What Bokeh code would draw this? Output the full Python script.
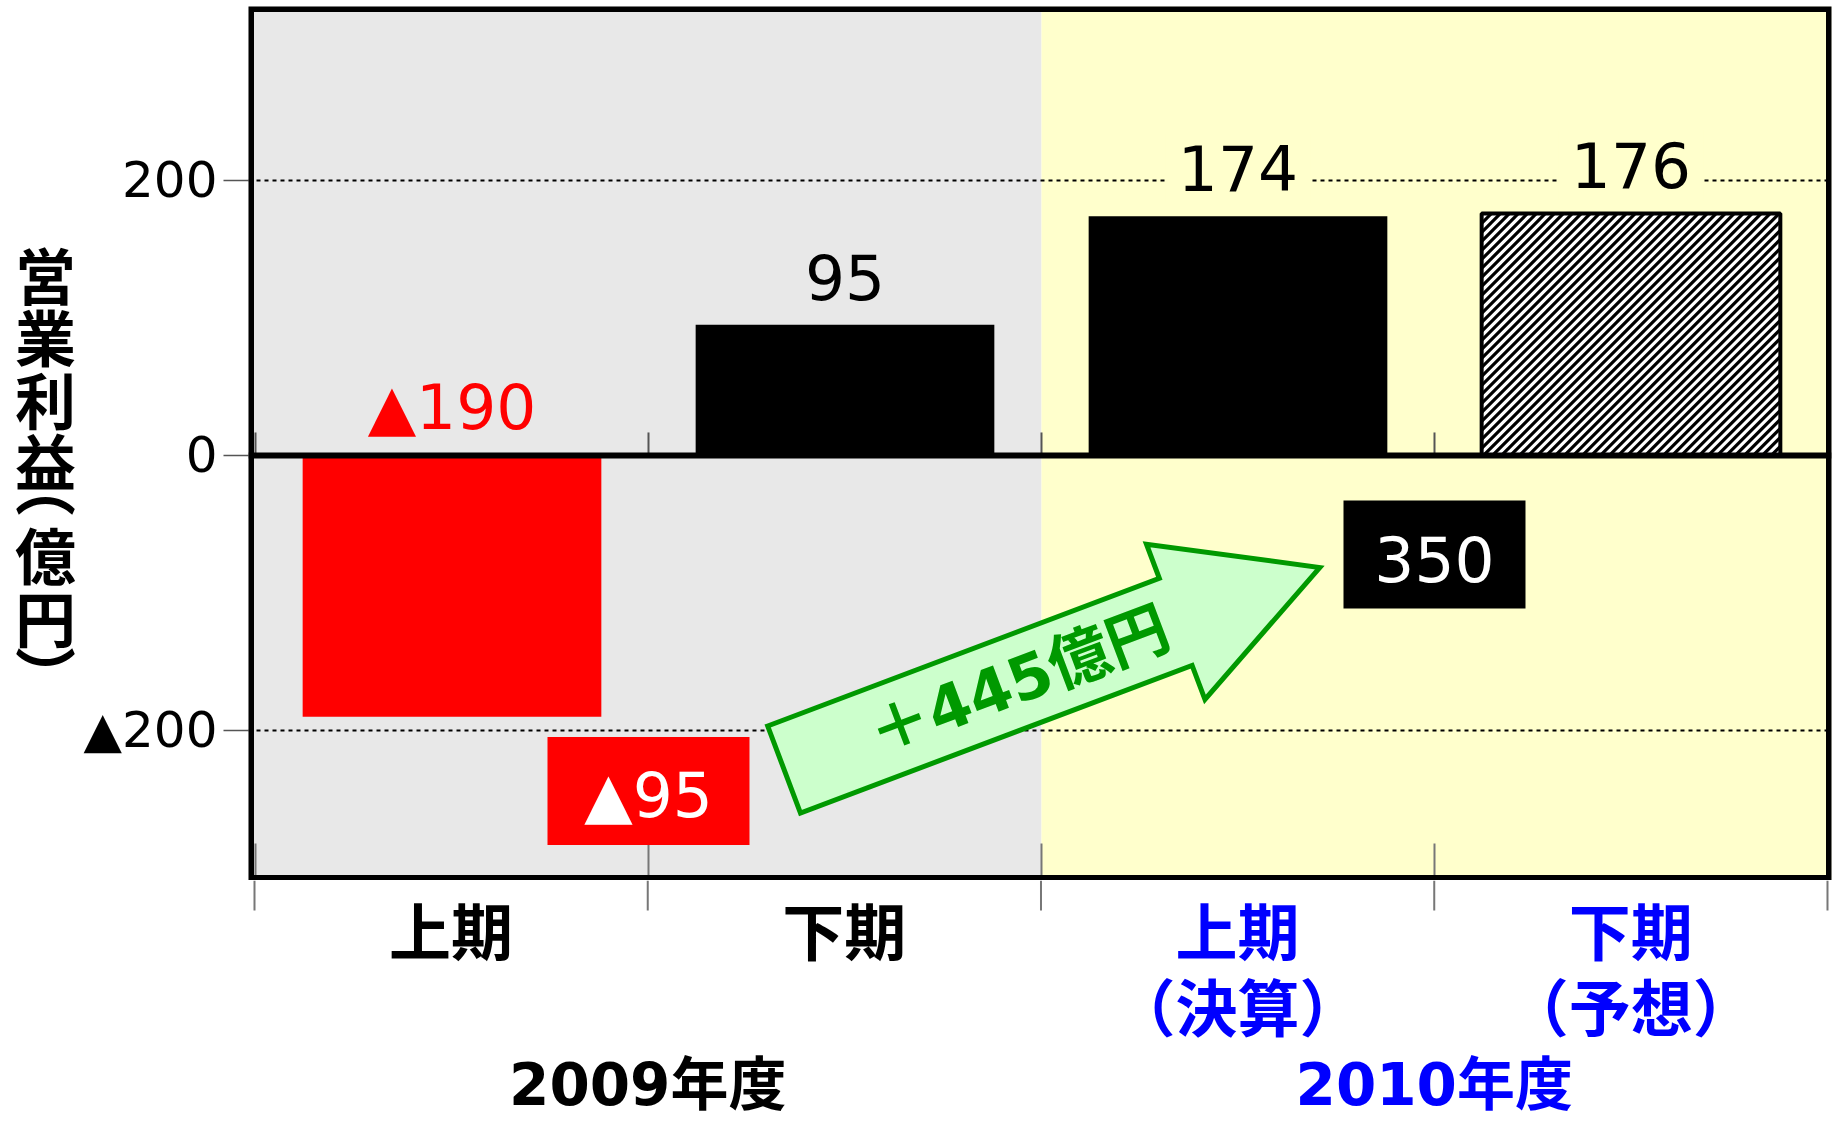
import math
from bokeh.plotting import figure
from bokeh.layouts import column, row
from bokeh.models import Range1d, FixedTicker, BoxAnnotation, Span
from bokeh.core.properties import value
from bokeh.embed import file_html
from bokeh.resources import INLINE

# ---------------- data ----------------
halves = ["上期", "下期", "上期", "下期"]
notes = ["", "", "（決算）", "（予想）"]
years = ["2009年度", "2010年度"]
profit = [-190, 95, 174, 176]          # 営業利益（億円）
forecast = [False, False, False, True]
y_ticks = [-200, 0, 200]
y_title = ["営", "業", "利", "益", "︵", "億", "円", "︶"]   # 営業利益（億円）, vertical


def jp_num(v):
    return ("▲" if v < 0 else "") + str(abs(v))


totals = [sum(profit[0:2]), sum(profit[2:4])]
gain = totals[1] - totals[0]
n = len(halves)
bounds = list(range(n + 1))
cx = [i + 0.5 for i in range(n)]
year_x = [sum(cx[0:2]) / 2, sum(cx[2:4]) / 2]

# ---------------- layout ----------------
W, H = 1837, 1126
TW = 80                        # width of the y-title strip
FL, FR, FT, FB = 247, 1831, 6, 880
X0, X1 = -0.0178, 4.0102
Y0, Y1 = -309.1, 326.5
PX_X = (FR - FL) / (X1 - X0)
PX_Y = (FB - FT) / (Y1 - Y0)
BAR_W = 0.76

NUM_FONT = value("DejaVu Sans")
JP_FONT = value("Noto Sans CJK JP")
MIX_FONT = value("DejaVu Sans, 'Noto Sans CJK JP'")

xr = Range1d(X0, X1)

# ---------------- main chart ----------------
p = figure(width=W - TW, height=FB, x_range=xr, y_range=Range1d(Y0, Y1),
           x_axis_type=None, output_backend="svg", toolbar_location=None,
           min_border_left=FL - TW, min_border_right=W - FR,
           min_border_top=FT, min_border_bottom=0)
p.outline_line_color = None
p.border_fill_color = "white"

p.add_layout(BoxAnnotation(right=2, fill_color="#E8E8E8", fill_alpha=1,
                           line_color=None, level="image"))
p.add_layout(BoxAnnotation(left=2, fill_color="#FFFFCC", fill_alpha=1,
                           line_color=None, level="image"))

ya = p.yaxis[0]
ya.ticker = FixedTicker(ticks=y_ticks)
ya.major_label_overrides = {t: jp_num(t) for t in y_ticks}
ya.major_tick_in = 0
ya.major_tick_out = 25
ya.major_tick_line_color = "#555555"
ya.major_tick_line_width = 1.5
ya.minor_tick_line_color = None
ya.axis_line_color = None
ya.major_label_text_font = "DejaVu Sans"
ya.major_label_text_font_size = "50px"
ya.major_label_text_color = "black"
ya.major_label_standoff = 6

p.ygrid.ticker = FixedTicker(ticks=[t for t in y_ticks if t != 0])
p.ygrid.grid_line_color = "black"
p.ygrid.grid_line_width = 2
p.ygrid.grid_line_dash = "4 4"

# category boundary ticks inside the frame (bottom edge and zero line)
p.ray(x=bounds, y=[Y0] * len(bounds), length=37, length_units="screen",
      angle=math.pi / 2, line_color="#777777", line_width=2)
p.ray(x=bounds[:-1], y=[0] * n, length=23, length_units="screen",
      angle=math.pi / 2, line_color="#555555", line_width=2)

# solid bars
solid = [i for i in range(n) if not forecast[i]]
fc = [i for i in range(n) if forecast[i]]
p.vbar(x=[cx[i] for i in solid], top=[profit[i] for i in solid], bottom=0,
       width=BAR_W, fill_color=["red" if profit[i] < 0 else "black" for i in solid],
       line_color=None)

# forecast bar: white fill, 45-degree hatching, black outline
p.vbar(x=[cx[i] for i in fc], top=[profit[i] for i in fc], bottom=0,
       width=BAR_W, fill_color="white", line_color=None)
hx0, hy0, hx1, hy1 = [], [], [], []
step = 9.0
for i in fc:
    xl, xrt = (cx[i] - BAR_W / 2) * PX_X, (cx[i] + BAR_W / 2) * PX_X
    yb, yt = min(0, profit[i]) * PX_Y, max(0, profit[i]) * PX_Y
    c = yb - xrt
    while c < yt - xl:
        a = max(xl, yb - c)
        b = min(xrt, yt - c)
        if b > a:
            hx0.append(a / PX_X); hy0.append((a + c) / PX_Y)
            hx1.append(b / PX_X); hy1.append((b + c) / PX_Y)
        c += step
p.segment(x0=hx0, y0=hy0, x1=hx1, y1=hy1, line_color="black", line_width=3.2)
p.vbar(x=[cx[i] for i in fc], top=[profit[i] for i in fc], bottom=0,
       width=BAR_W, fill_color=None, line_color="black", line_width=4)

p.add_layout(Span(location=0, dimension="width", line_color="black", line_width=6))

# value labels
lab_y = [max(v, 0) for v in profit]
first, second = [0, 1], [2, 3]
p.text(x=[cx[i] for i in first], y=[lab_y[i] for i in first],
       text=[jp_num(profit[i]) for i in first],
       text_color=["red" if profit[i] < 0 else "black" for i in first],
       text_font=NUM_FONT, text_font_size="63px", text_align="center",
       text_baseline="middle", y_offset=-48)
p.text(x=[cx[i] for i in second], y=[lab_y[i] for i in second],
       text=[jp_num(profit[i]) for i in second],
       text_color=["red" if profit[i] < 0 else "black" for i in second],
       text_font=NUM_FONT, text_font_size="63px", text_align="center",
       text_baseline="middle", y_offset=-48,
       background_fill_color="#FFFFCC", padding=12)

# yearly totals
box_y = [-244, -72]
p.rect(x=year_x, y=box_y, width=[202, 182], height=108,
       width_units="screen", height_units="screen",
       fill_color=["red", "black"], line_color=None)
p.text(x=year_x, y=box_y, text=[jp_num(t) for t in totals], text_color="white",
       text_font=NUM_FONT, text_font_size="63px", text_align="center",
       text_baseline="middle", y_offset=5)

# block arrow between the totals
tail = (1.345, -228.4)
tip = (2.708, -81.5)
tx, ty = tail[0] * PX_X, tail[1] * PX_Y
hx, hy = tip[0] * PX_X, tip[1] * PX_Y
L = math.hypot(hx - tx, hy - ty)
ux, uy = (hx - tx) / L, (hy - ty) / L
nx, ny = -uy, ux
shaft, head_w, head_len = 46.5, 83.0, 154.0
bx, by = tx + ux * (L - head_len), ty + uy * (L - head_len)
pts = [(tx + nx * shaft, ty + ny * shaft),
       (bx + nx * shaft, by + ny * shaft),
       (bx + nx * head_w, by + ny * head_w),
       (hx, hy),
       (bx - nx * head_w, by - ny * head_w),
       (bx - nx * shaft, by - ny * shaft),
       (tx - nx * shaft, ty - ny * shaft)]
p.patch([q[0] / PX_X for q in pts], [q[1] / PX_Y for q in pts],
        fill_color="#CCFFCC", line_color="#009900", line_width=5, line_join="miter")
theta = math.atan2(hy - ty, hx - tx)
t_along = 251.0
p.text(x=[(tx + ux * t_along) / PX_X], y=[(ty + uy * t_along) / PX_Y],
       text=["＋%d億円" % gain], angle=theta, text_color="#009900",
       text_font=MIX_FONT, text_font_style="bold", text_font_size="62px",
       text_align="center", text_baseline="middle")

# frame border on top of everything
p.add_layout(BoxAnnotation(fill_color=None, fill_alpha=0, line_color="black",
                           line_alpha=1, line_width=11, level="overlay"))

# ---------------- y-axis title strip ----------------
pt = figure(width=TW, height=FB, x_range=Range1d(0, TW), y_range=Range1d(FB, 0),
            x_axis_type=None, y_axis_type=None, output_backend="svg",
            toolbar_location=None, min_border=0, outline_line_color=None)
centers = [268.5, 331.5, 395, 456.5, 480, 551, 614, 672]
pt.text(x=[45] * len(y_title), y=centers, text=y_title,
        text_color="black", text_font=JP_FONT, text_font_style="bold",
        text_font_size="61px", text_align="center", text_baseline="middle")

# ---------------- category labels strip ----------------
pb = figure(width=W, height=H - FB, x_range=xr, y_range=Range1d(H, FB),
            x_axis_type=None, y_axis_type=None, output_backend="svg",
            toolbar_location=None, min_border_left=FL, min_border_right=W - FR,
            min_border_top=0, min_border_bottom=0, outline_line_color=None)
pb.segment(x0=bounds, y0=[FB] * len(bounds), x1=bounds, y1=[FB + 30] * len(bounds),
           line_color="#777777", line_width=2)
half_colors = ["black", "black", "blue", "blue"]
pb.text(x=cx, y=[928.5] * n, text=halves, text_color=half_colors,
        text_font=JP_FONT, text_font_style="bold", text_font_size="62px",
        text_align="center", text_baseline="middle")
note_idx = [i for i in range(n) if notes[i]]
pb.text(x=[cx[i] for i in note_idx], y=[1004] * len(note_idx),
        text=[notes[i] for i in note_idx], text_color=[half_colors[i] for i in note_idx],
        text_font=JP_FONT, text_font_style="bold", text_font_size="62px",
        text_align="center", text_baseline="middle")
pb.text(x=year_x, y=[1084] * 2, text=years, text_color=["black", "blue"],
        text_font=MIX_FONT, text_font_style="bold", text_font_size="58px",
        text_align="center", text_baseline="middle")

layout = column(row(pt, p), pb)
open("out.html", "w").write(file_html(layout, INLINE))
